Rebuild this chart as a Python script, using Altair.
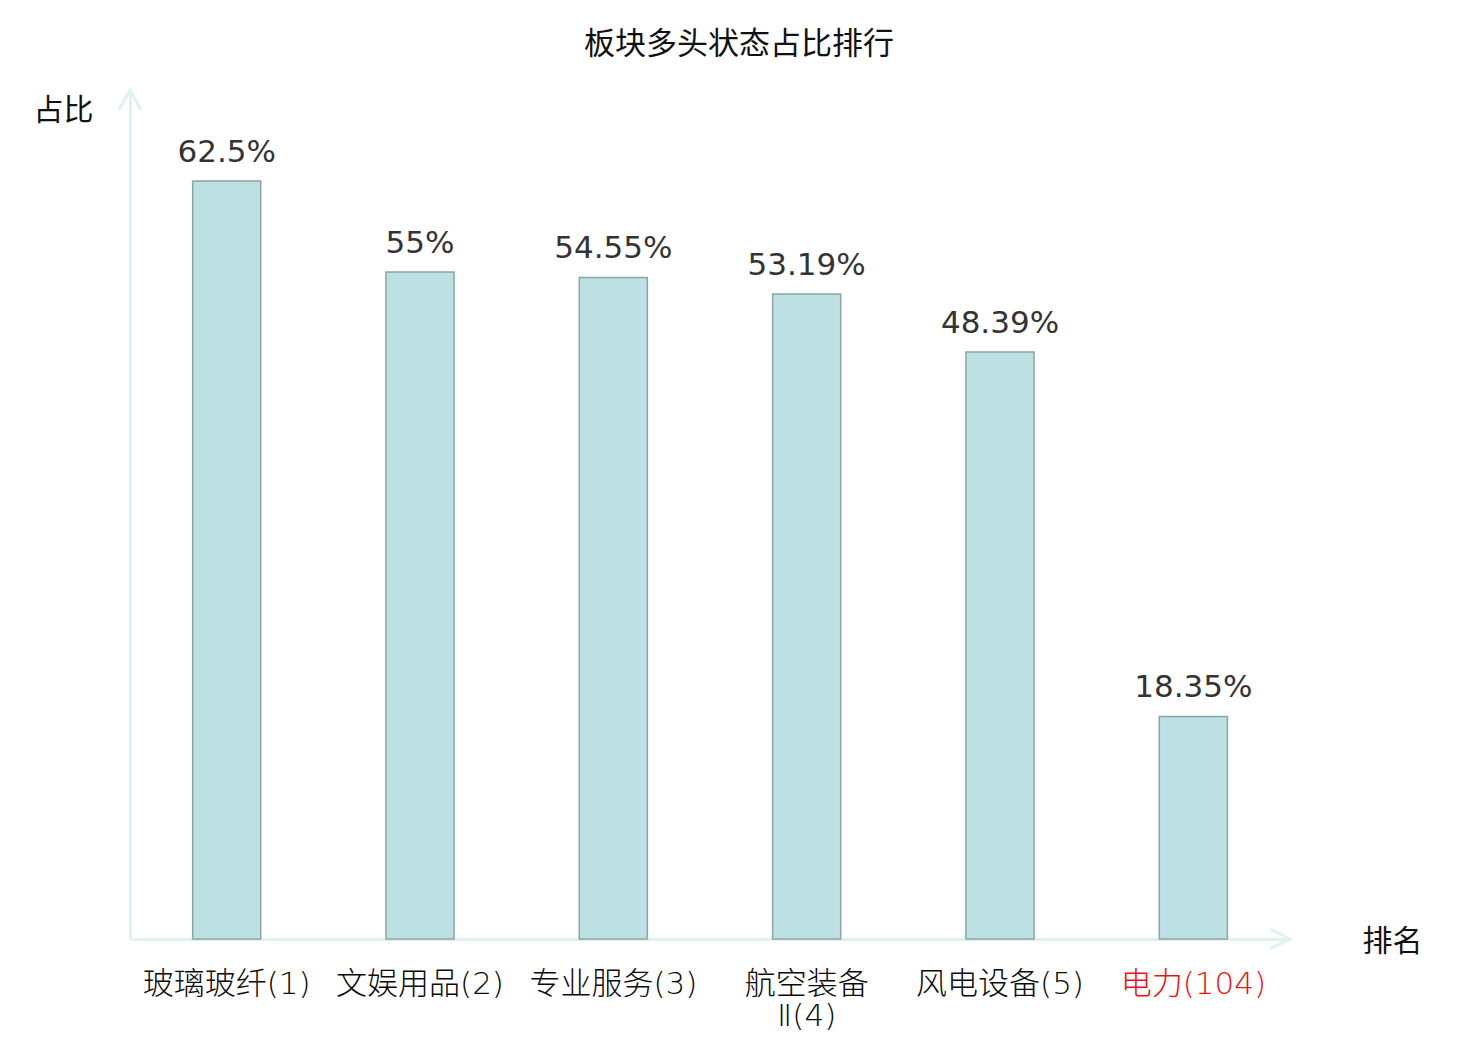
import altair as alt
import pandas as pd

categories = ["玻璃玻纤(1)", "文娱用品(2)", "专业服务(3)", "航空装备\nⅡ(4)", "风电设备(5)", "电力(104)"]
values = [62.5, 55, 54.55, 53.19, 48.39, 18.35]
value_labels = ["62.5%", "55%", "54.55%", "53.19%", "48.39%", "18.35%"]

df = pd.DataFrame({"cat": categories, "val": values, "lab": value_labels})

W, H = 1160, 849
FONT = "DejaVu Sans, Noto Sans CJK SC"
AXIS_COLOR = "#dff2ef"

xenc = alt.X("cat:N", sort=None,
             scale=alt.Scale(paddingInner=0.648, paddingOuter=0.324),
             axis=alt.Axis(title="排名", titleAngle=0, titleX=W + 102, titleY=2,
                           titleAlign="center", titleBaseline="middle",
                           titleFontSize=30, titleFontWeight="normal", titleFont=FONT,
                           titleColor="#111",
                           labelAngle=0, labelFontSize=31, labelFont=FONT,
                           labelFontWeight=200,
                           labelPadding=30, labelBaseline="top",
                           labelExpr="split(datum.label, '\\n')",
                           labelColor=alt.ExprRef("datum.value == '电力(104)' ? '#ee1111' : '#0a0a0a'"),
                           labelLineHeight=32,
                           ticks=False, domainColor=AXIS_COLOR, domainWidth=3,
                           grid=False))
yenc = alt.Y("val:Q", scale=alt.Scale(domain=[0, 70], nice=False),
             axis=alt.Axis(title="占比", titleAngle=0, titleX=-67, titleY=20,
                           titleAlign="center", titleBaseline="middle",
                           titleFontSize=30, titleFontWeight="normal", titleFont=FONT,
                           titleColor="#111",
                           labels=False, ticks=False, grid=False,
                           domainColor=AXIS_COLOR, domainWidth=3))

bars = alt.Chart(df).mark_bar(color="#bde0e3", stroke="#8aa5a7", strokeWidth=1.5).encode(
    x=xenc, y=yenc)

text = alt.Chart(df).mark_text(baseline="alphabetic", dy=-19, fontSize=31,
                               font=FONT, color="#333").encode(
    x=alt.X("cat:N", sort=None), y="val:Q", text="lab:N")

arrow_df = pd.DataFrame({"k": [0]})
up_arrow = alt.Chart(arrow_df).mark_point(
    shape="M-0.55,1L0,0L0.55,1", size=1600, filled=False,
    stroke=AXIS_COLOR, strokeWidth=3, opacity=1).encode(
    x=alt.value(0), y=alt.value(0))
right_arrow = alt.Chart(arrow_df).mark_point(
    shape="M-1,-0.5L0,0L-1,0.5", size=1600, filled=False,
    stroke=AXIS_COLOR, strokeWidth=3, opacity=1).encode(
    x=alt.value(W), y=alt.value(H))

chart = alt.layer(bars, text, up_arrow, right_arrow).properties(
    width=W, height=H,
    title=alt.TitleParams("板块多头状态占比排行", fontSize=31, font=FONT,
                          fontWeight="normal", color="#111", anchor="middle",
                          dx=29, offset=23),
    autosize=alt.AutoSizeParams(type="none"),
    padding={"left": 122, "top": 82, "right": 180, "bottom": 92},
).configure(background="white", view=alt.ViewConfig(stroke="transparent"))

chart.save("out.html", embed_options={"renderer": "svg", "actions": False})
